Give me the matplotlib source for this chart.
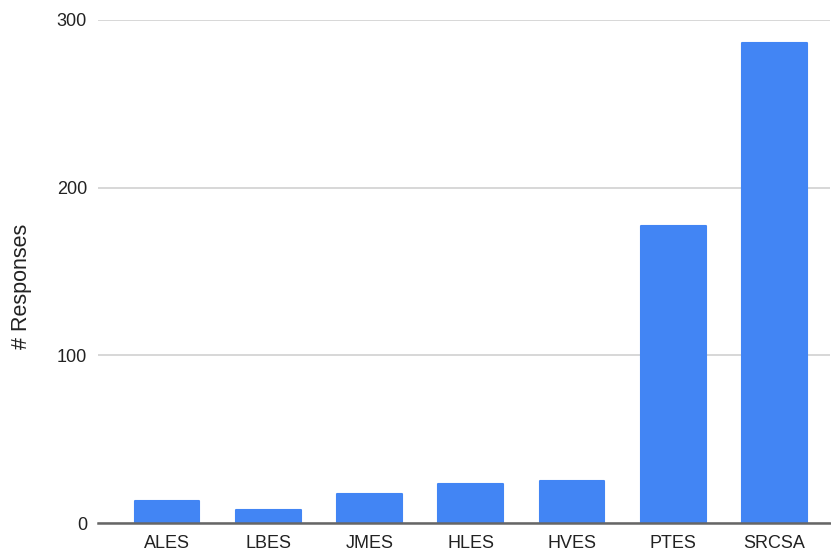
import matplotlib.pyplot as plt

plt.rcParams['font.family'] = ['Liberation Sans', 'DejaVu Sans']

schools = ['ALES', 'LBES', 'JMES', 'HLES', 'HVES', 'PTES', 'SRCSA']
responses = [13, 8, 17, 23, 25, 177, 286]
yticks = [0, 100, 200, 300]

bar_color = '#4285F4'
text_color = '#222222'

fig = plt.figure(figsize=(8.31, 5.57), dpi=100)
ax = fig.add_axes([98 / 831, 1 - 523 / 557, (830 - 98) / 831, (523 - 20) / 557])

x = range(len(schools))
ax.bar(x, responses, width=0.64, color=bar_color, edgecolor=bar_color,
       linewidth=1.5, joinstyle='round', zorder=2)

ax.set_xlim(-0.682, 6.549)
ax.set_ylim(0, 300)
ax.set_yticks(yticks)
ax.set_xticks(list(x))
ax.set_xticklabels(schools)

ax.grid(axis='y', color='#d4d4d4', linewidth=1.3, zorder=0)
ax.axhline(0, color='#666666', linewidth=1.8, zorder=3, clip_on=False)

for s in ax.spines.values():
    s.set_visible(False)
ax.tick_params(axis='both', length=0, labelsize=13, colors=text_color)
ax.tick_params(axis='y', pad=8)
ax.tick_params(axis='x', pad=9)

ax.set_ylabel('# Responses', fontsize=15.5, color=text_color)
ax.yaxis.set_label_coords(-0.090, 0.471)

fig.savefig('out.png', dpi=100)
